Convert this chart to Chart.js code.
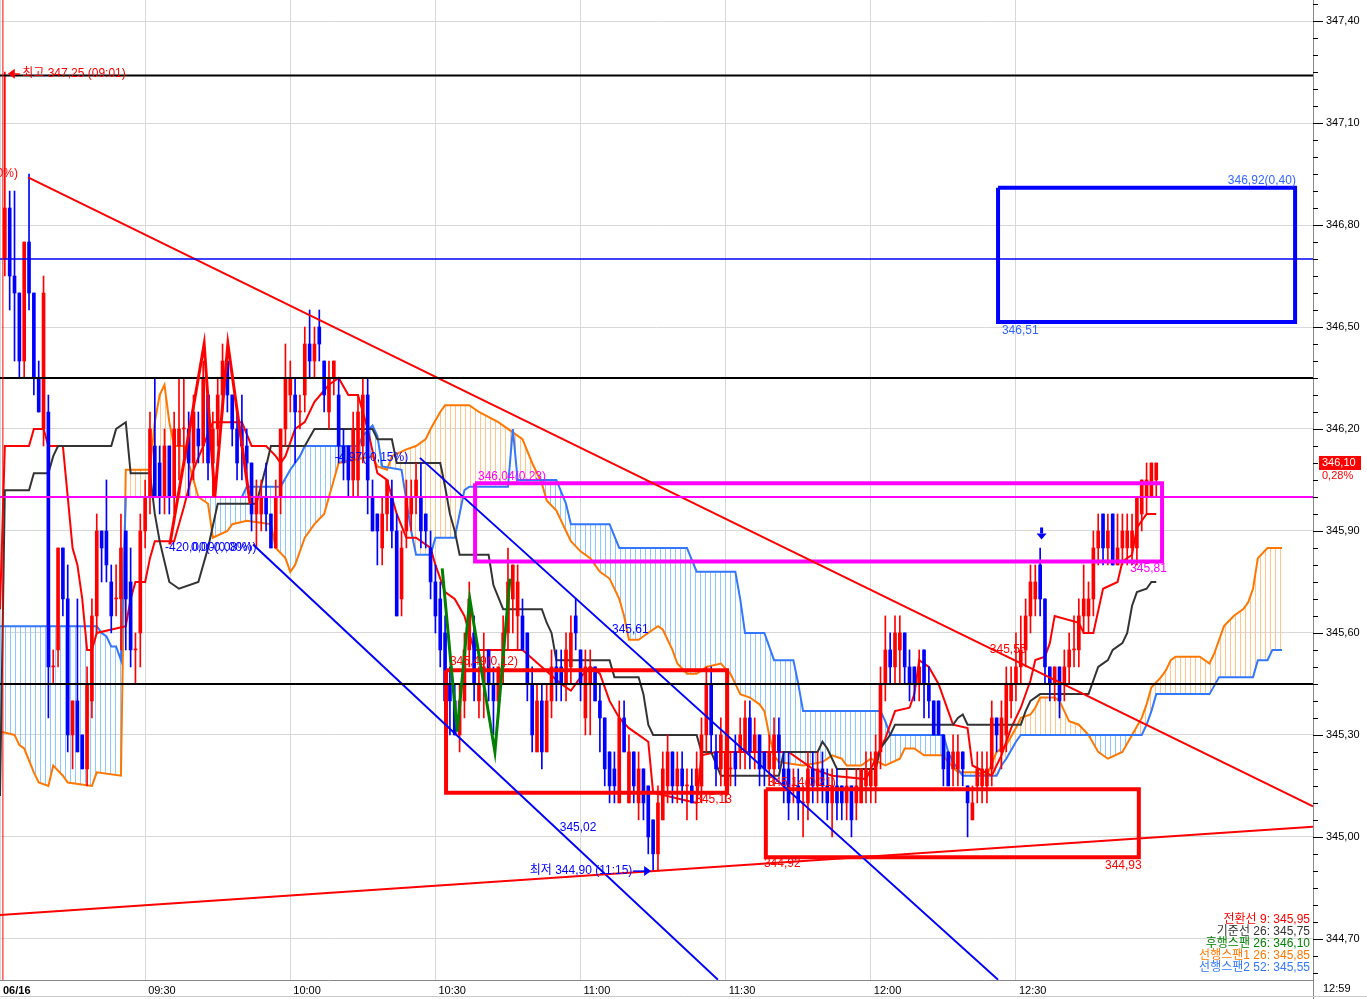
<!DOCTYPE html>
<html>
<head>
<meta charset="utf-8">
<script src="https://cdn.jsdelivr.net/npm/chart.js@4.4.0/dist/chart.umd.min.js"></script>
<style>
html,body{margin:0;padding:0;background:#fff;overflow:hidden}
#wrap{width:1367px;height:999px}
</style>
</head>
<body>
<div id="wrap"><canvas id="c" width="1367" height="999"></canvas></div>
<script>
// minute bars, index = minutes after 09:00, first bar is 09:01
const firstBar = 1;
const tickMinutes = [0, 30, 60, 90, 120, 150, 180, 210];
const tickLabels = ['06/16', '09:30', '10:00', '10:30', '11:00', '11:30', '12:00', '12:30'];
const lastTime = '12:59';
const priceTicks = [344.70, 345.00, 345.30, 345.60, 345.90, 346.20, 346.50, 346.80, 347.10, 347.40];

// open, high, low, close
const ohlc = [
  [346.70,347.25,346.65,346.85],[346.85,346.90,346.55,346.65],[346.65,346.90,346.40,346.60],[346.60,346.60,346.35,346.40],[346.40,346.75,346.35,346.75],
  [346.75,346.95,346.55,346.60],[346.60,346.60,346.30,346.35],[346.35,346.40,346.25,346.25],[346.20,346.65,346.15,346.60],[346.25,346.30,345.35,345.50],
  [345.50,345.55,345.45,345.50],[345.55,345.85,345.50,345.85],[345.85,345.85,345.65,345.70],[345.70,345.80,345.25,345.30],[345.30,345.40,345.20,345.40],
  [345.40,345.70,345.25,345.25],[345.30,345.30,345.20,345.20],[345.20,345.50,345.15,345.45],[345.40,345.70,345.35,345.65],[345.65,345.95,345.60,345.90],
  [345.90,345.90,345.75,345.85],[345.90,346.05,345.75,345.80],[345.75,345.80,345.60,345.65],[345.70,345.80,345.65,345.70],[345.70,345.95,345.55,345.85],
  [345.90,345.90,345.55,345.70],[345.75,345.85,345.50,345.55],[345.55,345.60,345.45,345.55],[345.60,345.95,345.50,345.90],[345.90,346.05,345.85,346.00],
  [346.00,346.25,345.95,346.20],[346.15,346.35,346.00,346.00],[346.10,346.15,345.95,346.00],[346.00,346.20,345.95,346.15],[346.15,346.15,345.95,346.00],
  [346.00,346.25,345.95,346.20],[346.15,346.35,346.05,346.20],[346.20,346.35,346.10,346.20],[346.20,346.25,346.00,346.10],[346.10,346.30,346.05,346.25],
  [346.20,346.25,346.10,346.15],[346.15,346.40,346.10,346.35],[346.30,346.30,346.05,346.10],[346.10,346.25,346.00,346.20],[346.20,346.35,346.15,346.30],
  [346.30,346.45,346.25,346.40],[346.40,346.40,346.25,346.30],[346.30,346.30,346.15,346.20],[346.20,346.25,346.05,346.10],[346.20,346.30,346.05,346.15],
  [346.15,346.20,346.05,346.10],[346.10,346.10,345.90,345.95],[345.95,346.05,345.85,346.00],[345.95,346.05,345.90,346.00],[346.00,346.10,345.90,345.95],
  [345.95,345.95,345.85,345.85],[345.85,346.05,345.85,346.00],[346.00,346.20,345.95,346.20],[346.20,346.45,346.15,346.35],[346.30,346.40,346.25,346.35],
  [346.30,346.35,346.10,346.25],[346.25,346.30,346.20,346.25],[346.30,346.50,346.25,346.45],[346.45,346.55,346.35,346.40],[346.40,346.50,346.35,346.45],
  [346.50,346.55,346.40,346.45],[346.40,346.40,346.25,346.30],[346.25,346.40,346.20,346.35],[346.35,346.40,346.30,346.40],[346.30,346.35,346.10,346.15],
  [346.15,346.20,346.05,346.10],[346.15,346.15,346.00,346.05],[346.05,346.25,346.00,346.20],[346.05,346.30,346.00,346.25],[346.15,346.35,346.10,346.30],
  [346.30,346.35,345.95,346.05],[346.00,346.05,345.90,345.90],[345.95,345.95,345.80,345.90],[345.85,346.00,345.80,345.95],[345.95,346.05,345.90,346.05],
  [346.00,346.05,345.85,345.90],[345.90,345.95,345.65,345.65],[345.70,345.90,345.65,345.85],[345.90,346.05,345.85,346.00],[345.95,346.05,345.90,346.00],
  [346.00,346.10,345.95,346.05],[346.00,346.10,345.85,345.90],[345.95,345.95,345.85,345.90],[345.85,345.90,345.70,345.75],[345.75,345.80,345.60,345.65],
  [345.70,345.75,345.50,345.55],[345.60,345.65,345.30,345.40],[345.45,345.50,345.30,345.40],[345.40,345.45,345.30,345.30],[345.30,345.45,345.25,345.40],
  [345.40,345.60,345.35,345.55],[345.55,345.75,345.50,345.70],[345.60,345.65,345.40,345.45],[345.40,345.50,345.35,345.45],[345.45,345.60,345.35,345.50],
  [345.55,345.55,345.40,345.45],[345.45,345.50,345.30,345.40],[345.40,345.50,345.35,345.50],[345.50,345.65,345.45,345.60],[345.60,345.85,345.55,345.75],
  [345.70,345.80,345.60,345.80],[345.65,345.80,345.55,345.75],[345.65,345.70,345.55,345.55],[345.60,345.60,345.40,345.45],[345.45,345.50,345.25,345.30],
  [345.25,345.45,345.25,345.40],[345.40,345.45,345.20,345.25],[345.25,345.45,345.25,345.40],[345.40,345.55,345.35,345.50],[345.50,345.55,345.40,345.45],
  [345.50,345.55,345.40,345.45],[345.45,345.60,345.40,345.55],[345.50,345.65,345.45,345.60],[345.65,345.70,345.55,345.60],[345.55,345.55,345.40,345.45],
  [345.35,345.55,345.30,345.50],[345.45,345.55,345.30,345.50],[345.50,345.50,345.40,345.40],[345.40,345.45,345.25,345.35],[345.35,345.35,345.15,345.20],
  [345.25,345.25,345.10,345.15],[345.20,345.25,345.10,345.15],[345.10,345.40,345.10,345.35],[345.35,345.40,345.25,345.25],[345.10,345.30,345.10,345.25],
  [345.25,345.25,345.10,345.15],[345.10,345.25,345.05,345.20],[345.20,345.20,345.05,345.10],[345.15,345.15,344.95,345.00],[345.05,345.05,344.90,344.95],
  [344.95,345.15,344.90,345.10],[345.05,345.25,345.05,345.20],[345.15,345.30,345.10,345.25],[345.25,345.25,345.10,345.15],[345.15,345.25,345.10,345.20],
  [345.20,345.25,345.10,345.15],[345.15,345.20,345.05,345.15],[345.15,345.20,345.10,345.10],[345.15,345.25,345.05,345.20],[345.15,345.35,345.10,345.30],
  [345.30,345.50,345.25,345.45],[345.45,345.50,345.25,345.30],[345.25,345.30,345.15,345.20],[345.20,345.35,345.15,345.30],[345.15,345.30,345.10,345.25],
  [345.20,345.25,345.15,345.20],[345.25,345.30,345.15,345.20],[345.25,345.35,345.20,345.30],[345.25,345.40,345.20,345.35],[345.35,345.40,345.20,345.25],
  [345.25,345.35,345.20,345.30],[345.30,345.30,345.15,345.20],[345.25,345.25,345.15,345.20],[345.20,345.30,345.15,345.25],[345.20,345.35,345.15,345.30],
  [345.30,345.35,345.20,345.25],[345.20,345.25,345.10,345.15],[345.20,345.25,345.05,345.10],[345.15,345.20,345.10,345.15],[345.15,345.20,345.05,345.10],
  [345.10,345.15,345.00,345.10],[345.10,345.25,345.05,345.20],[345.20,345.25,345.10,345.15],[345.15,345.25,345.10,345.20],[345.20,345.25,345.10,345.15],
  [345.15,345.20,345.05,345.10],[345.10,345.20,345.00,345.15],[345.15,345.20,345.05,345.10],[345.15,345.15,345.05,345.10],[345.10,345.20,345.05,345.15],
  [345.15,345.15,345.00,345.05],[345.10,345.20,345.05,345.15],[345.10,345.20,345.10,345.20],[345.15,345.25,345.10,345.20],[345.15,345.25,345.10,345.20],
  [345.15,345.30,345.10,345.25],[345.25,345.50,345.20,345.45],[345.45,345.65,345.40,345.55],[345.55,345.60,345.45,345.50],[345.50,345.65,345.45,345.60],
  [345.55,345.65,345.45,345.60],[345.60,345.60,345.45,345.50],[345.50,345.55,345.40,345.45],[345.50,345.50,345.40,345.45],[345.45,345.55,345.40,345.50],
  [345.55,345.55,345.35,345.45],[345.45,345.50,345.35,345.40],[345.40,345.40,345.30,345.30],[345.40,345.40,345.30,345.30],[345.30,345.30,345.15,345.20],
  [345.25,345.25,345.15,345.15],[345.20,345.30,345.15,345.25],[345.20,345.30,345.15,345.25],[345.25,345.25,345.15,345.20],[345.15,345.15,345.00,345.10],
  [345.05,345.15,345.05,345.10],[345.15,345.25,345.10,345.20],[345.15,345.25,345.10,345.20],[345.15,345.25,345.10,345.20],[345.20,345.40,345.15,345.35],
  [345.35,345.35,345.25,345.30],[345.25,345.40,345.20,345.35],[345.30,345.50,345.25,345.45],[345.40,345.50,345.35,345.45],[345.45,345.60,345.40,345.50],
  [345.50,345.65,345.45,345.55],[345.55,345.70,345.50,345.65],[345.65,345.80,345.60,345.75],[345.70,345.80,345.65,345.75],[345.80,345.85,345.65,345.70],
  [345.70,345.70,345.45,345.50],[345.50,345.50,345.40,345.45],[345.45,345.50,345.40,345.50],[345.50,345.50,345.35,345.40],[345.45,345.55,345.40,345.50],
  [345.50,345.60,345.45,345.55],[345.55,345.65,345.50,345.55],[345.55,345.70,345.50,345.65],[345.65,345.80,345.60,345.70],[345.65,345.75,345.60,345.70],
  [345.70,345.90,345.65,345.85],[345.85,345.95,345.80,345.90],[345.95,345.95,345.80,345.85],[345.85,345.95,345.80,345.90],[345.95,345.95,345.80,345.80],
  [345.80,345.95,345.80,345.85],[345.85,345.95,345.80,345.90],[345.85,345.95,345.80,345.90],[345.85,345.95,345.80,345.90],[345.85,346.00,345.80,346.00],
  [345.95,346.05,345.90,346.05],[346.00,346.10,345.95,346.05],[346.00,346.10,346.00,346.10],[346.05,346.10,346.00,346.10]
];

// ichimoku lines, [minute, price] at each turn
const tenkan = [[0,345.67],[1,346.15],[6,346.15],[7,346.20],[9,346.20],[10,346.15],[13,346.15],[14,346.00],[15,345.85],[16,345.80],[17,345.70],[18,345.55],[19,345.55],[20,345.60],[26,345.62],[27,345.70],[28,345.75],[30,345.75],[31,345.82],[32,345.87],[36,345.87],[38,345.97],[40,346.08],[42,346.15],[44,346.22],[50,346.22],[52,346.15],[55,346.15],[57,346.12],[58,346.10],[59,346.12],[61,346.20],[63,346.22],[65,346.28],[68,346.33],[70,346.35],[72,346.30],[74,346.30],[76,346.20],[78,346.07],[80,346.05],[82,345.95],[84,345.88],[86,345.88],[89,345.85],[90,345.80],[92,345.72],[94,345.70],[96,345.65],[98,345.55],[108,345.55],[112,345.50],[116,345.45],[118,345.43],[120,345.47],[122,345.50],[124,345.48],[126,345.40],[128,345.35],[130,345.32],[132,345.30],[134,345.28],[135,345.13],[144,345.10],[145,345.24],[148,345.25],[163,345.25],[168,345.20],[172,345.18],[179,345.17],[180,345.20],[182,345.26],[183,345.29],[185,345.37],[188,345.38],[189,345.42],[190,345.52],[192,345.50],[194,345.45],[196,345.37],[197,345.33],[200,345.32],[201,345.21],[205,345.18],[207,345.24],[209,345.32],[211,345.38],[213,345.46],[214,345.52],[216,345.53],[217,345.57],[218,345.65],[223,345.63],[224,345.60],[226,345.60],[228,345.73],[231,345.75],[232,345.81],[234,345.83],[235,345.91],[237,345.95],[239,345.95]];
const kijun = [[0,345.12],[1,346.02],[6,346.02],[7,346.07],[10,346.07],[11,346.12],[12,346.15],[23,346.15],[24,346.20],[26,346.22],[27,346.07],[31,346.07],[32,345.95],[33,345.87],[35,345.75],[37,345.73],[41,345.75],[43,345.85],[45,345.98],[53,345.98],[55,346.09],[56,346.15],[63,346.15],[65,346.20],[77,346.20],[78,346.17],[81,346.17],[82,346.10],[91,346.10],[92,346.03],[93,345.95],[94,345.90],[95,345.83],[101,345.83],[102,345.74],[104,345.67],[112,345.67],[113,345.63],[114,345.60],[115,345.52],[126,345.52],[127,345.47],[132,345.47],[133,345.42],[134,345.33],[135,345.30],[144,345.30],[145,345.25],[147,345.25],[149,345.18],[161,345.18],[162,345.25],[169,345.25],[170,345.28],[171,345.26],[173,345.20],[181,345.20],[182,345.26],[184,345.30],[185,345.33],[197,345.33],[198,345.35],[199,345.36],[200,345.33],[211,345.33],[212,345.37],[213,345.40],[215,345.42],[225,345.42],[227,345.50],[229,345.52],[230,345.55],[232,345.57],[233,345.60],[234,345.68],[235,345.72],[237,345.73],[238,345.75],[239,345.75]];
const span1 = [[0,345.31],[3,345.30],[4,345.27],[5,345.26],[7,345.19],[8,345.16],[10,345.15],[11,345.21],[13,345.18],[14,345.16],[19,345.15],[20,345.19],[25,345.18],[26,346.08],[31,346.08],[32,346.22],[33,346.30],[34,346.33],[35,346.22],[36,346.15],[38,346.15],[40,346.05],[41,346.00],[43,345.98],[44,345.88],[47,345.90],[48,345.92],[51,345.93],[56,345.92],[57,345.85],[59,345.82],[60,345.78],[61,345.80],[63,345.88],[65,345.92],[67,345.95],[68,346.00],[69,346.05],[70,346.10],[77,346.12],[78,346.09],[80,346.08],[81,346.12],[84,346.14],[86,346.15],[88,346.17],[89,346.20],[91,346.25],[92,346.27],[97,346.27],[99,346.25],[103,346.22],[108,346.17],[110,346.10],[112,346.04],[113,345.99],[115,345.96],[117,345.90],[118,345.87],[120,345.84],[122,345.82],[124,345.78],[126,345.76],[128,345.70],[129,345.65],[130,345.58],[132,345.58],[135,345.61],[136,345.62],[137,345.61],[138,345.58],[139,345.55],[140,345.51],[142,345.48],[144,345.48],[146,345.50],[149,345.51],[151,345.48],[152,345.45],[153,345.42],[155,345.41],[157,345.39],[158,345.37],[159,345.30],[160,345.24],[161,345.22],[166,345.21],[170,345.22],[172,345.24],[174,345.23],[175,345.21],[178,345.21],[180,345.23],[183,345.21],[186,345.23],[187,345.26],[189,345.26],[191,345.24],[195,345.24],[196,345.22],[198,345.19],[202,345.19],[204,345.18],[206,345.25],[208,345.27],[210,345.32],[211,345.35],[213,345.36],[214,345.38],[215,345.41],[218,345.41],[219,345.40],[220,345.37],[221,345.34],[223,345.33],[225,345.30],[227,345.25],[229,345.23],[232,345.25],[234,345.30],[236,345.35],[237,345.39],[238,345.44],[240,345.47],[241,345.49],[242,345.52],[243,345.53],[248,345.53],[250,345.51],[251,345.54],[252,345.58],[253,345.62],[255,345.65],[257,345.67],[258,345.69],[259,345.73],[260,345.82],[262,345.85],[265,345.85]];
const span2 = [[0,345.62],[20,345.62],[21,345.60],[22,345.59],[23,345.56],[24,345.56],[25,345.52],[26,346.00],[50,346.00],[51,346.03],[58,346.03],[60,346.08],[62,346.12],[63,346.15],[74,346.15],[75,346.18],[77,346.21],[78,346.18],[79,346.09],[83,346.08],[84,345.99],[85,345.90],[86,345.83],[89,345.83],[90,345.88],[94,345.88],[95,345.95],[96,346.02],[97,346.03],[105,346.03],[106,346.20],[107,346.05],[115,346.05],[117,345.98],[118,345.92],[126,345.92],[128,345.85],[142,345.85],[144,345.78],[152,345.78],[153,345.70],[154,345.60],[158,345.60],[160,345.52],[164,345.52],[165,345.45],[166,345.37],[182,345.37],[183,345.34],[184,345.30],[195,345.30],[196,345.25],[197,345.22],[199,345.18],[206,345.18],[207,345.21],[208,345.23],[210,345.28],[211,345.30],[236,345.30],[237,345.33],[238,345.37],[239,345.42],[250,345.42],[252,345.47],[259,345.47],[260,345.52],[262,345.52],[263,345.55],[265,345.55]];

// drawn objects
const patternW = [[91.4,345.79],[94.5,345.31],[97.1,345.70],[102.3,345.25],[105.4,345.76]];
const patternM = [[35.1,345.86],[42.2,346.45],[44.4,346.00],[47.1,346.45],[51.7,345.98]];
const hLines = [[347.24,'#000000',2],[346.70,'#0000ff',1.5],[346.35,'#000000',2],[346.00,'#ff00ff',2],[345.45,'#000000',2]];
const trendLines = [
  [[5.8,346.94],[271.4,345.09],'#ff0000',2],
  [[0,344.77],[271.4,345.03],'#ff0000',2],
  [[52.3,345.86],[148.4,344.58],'#0000ff',2],
  [[86.8,346.115],[206.3,344.58],'#0000ff',2]
];
const boxes = [
  [206.3,267.7,346.91,346.515,'#0000ff'],
  [98.2,240.2,346.04,345.81,'#ff00ff'],
  [92.2,150.3,345.49,345.13,'#ff0000'],
  [158.3,235.4,345.14,344.94,'#ff0000']
];
const dayBreak = 0.6;
const notes = [
  ['최고 347,25 (09:01)', 4.6, 347.245, '#ff0000', 'left'],
  ['346,95(0,00%)', 3.7, 346.95, '#ff0000', 'right'],
  ['-4,97(-0,15%)', 69.2, 346.115, '#0000ff', 'left'],
  ['-420,00(-0,08%)', 34.1, 345.85, '#0000ff', 'left'],
  ['0,00(0,00%)', 39.5, 345.85, '#0000ff', 'left'],
  ['346,04(0,23)', 98.8, 346.06, '#ff00ff', 'left'],
  ['345,81', 233.6, 345.79, '#ff00ff', 'left'],
  ['346,92(0,40)', 253.8, 346.93, '#3366ff', 'left'],
  ['346,51', 207.1, 346.49, '#3366ff', 'left'],
  ['345,49(0,12)', 93.0, 345.515, '#ff0000', 'left'],
  ['345,13', 143.7, 345.109, '#ff0000', 'left'],
  ['345,14(0,21)', 158.7, 345.159, '#ff0000', 'left'],
  ['344,93', 228.4, 344.915, '#ff0000', 'left'],
  ['344,92', 157.9, 344.92, '#ff0000', 'left'],
  ['345,61', 126.5, 345.61, '#0000ff', 'left'],
  ['345,02', 115.7, 345.027, '#0000ff', 'left'],
  ['345,55', 204.6, 345.55, '#ff0000', 'left'],
  ['최저 344,90 (11:15)', 109.5, 344.90, '#0000ff', 'left']
];
const legendLines = [
  ['전환선 9: 345,95', '#ff0000'],
  ['기준선 26: 345,75', '#333333'],
  ['후행스팬 26: 346,10', '#008000'],
  ['선행스팬1 26: 345,85', '#ff7700'],
  ['선행스팬2 52: 345,55', '#3377ff']
];
const lastPrice = 346.10;
const lastChange = '0,28%';

const RED = '#ff0000', BLUE = '#0000ff';
const FONT = "'Liberation Sans','Noto Sans CJK KR',sans-serif";
Chart.defaults.font.family = FONT;
Chart.defaults.font.size = 11;
Chart.defaults.color = '#000';

const pts = arr => arr.map(p => ({x: p[0], y: p[1]}));
const isMajor = v => priceTicks.some(p => Math.abs(p - v) < 1e-6);
const fmt = v => v.toFixed(2).replace('.', ',');

function hatch(color) {
  const c = document.createElement('canvas');
  c.width = 5; c.height = 1;
  const g = c.getContext('2d');
  g.fillStyle = color;
  g.fillRect(0, 0, 1, 1);
  return g.createPattern(c, 'repeat');
}

const xMax = 271.4;
const lineDs = (data, color, width, order) => ({
  type: 'line', data, borderColor: color, borderWidth: width, pointRadius: 0,
  fill: false, tension: 0, order
});

const datasets = [
  lineDs(pts(span2), '#3377ff', 2, 4),
  Object.assign(lineDs(pts(span1), '#ff7700', 2, 5), {
    fill: {target: 0, above: hatch('#ffc58a'), below: hatch('#8cc8ff')}
  }),
  lineDs(pts(kijun), '#333333', 2, 3),
  lineDs(pts(tenkan), RED, 2, 3),
  {
    type: 'bar', order: 2, grouped: false, barThickness: 1,
    data: ohlc.map((d, k) => ({x: k + firstBar, y: [d[2], d[1]]})),
    backgroundColor: ctx => ohlc[ctx.dataIndex][3] >= ohlc[ctx.dataIndex][0] ? RED : BLUE
  },
  {
    type: 'bar', order: 1, grouped: false, barThickness: 3, minBarLength: 1,
    data: ohlc.map((d, k) => ({x: k + firstBar, y: [Math.min(d[0], d[3]), Math.max(d[0], d[3])]})),
    backgroundColor: ctx => ohlc[ctx.dataIndex][3] >= ohlc[ctx.dataIndex][0] ? RED : BLUE
  },
  lineDs(pts(patternW), '#008000', 3, 0),
  lineDs(pts(patternM), RED, 3, 0),
  lineDs([{x: dayBreak, y: 344.5}, {x: dayBreak, y: 347.5}], RED, 1, 0)
];
hLines.forEach(h => datasets.push(lineDs([{x: 0, y: h[0]}, {x: xMax, y: h[0]}], h[1], h[2], 0)));
trendLines.forEach(t => datasets.push(lineDs(pts([t[0], t[1]]), t[2], t[3], 0)));
boxes.forEach(b => datasets.push(Object.assign(lineDs(pts([[b[0], b[2]], [b[1], b[2]], [b[1], b[3]], [b[0], b[3]], [b[0], b[2]]]), b[4], 4, 0), {borderJoinStyle: 'miter'})));

const overlay = {
  id: 'overlay',
  afterDraw(chart) {
    const {ctx, chartArea: a, scales: {x, y}} = chart;
    ctx.save();
    // y tick marks
    ctx.strokeStyle = '#000';
    ctx.lineWidth = 1;
    y.ticks.forEach(t => {
      const py = Math.round(y.getPixelForValue(t.value)) + 0.5;
      ctx.beginPath();
      ctx.moveTo(a.right, py);
      ctx.lineTo(a.right + (isMajor(t.value) ? 10 : 5), py);
      ctx.stroke();
    });
    // frame bits
    ctx.strokeStyle = '#888';
    ctx.beginPath();
    ctx.moveTo(a.right + 0.5, a.bottom); ctx.lineTo(a.right + 0.5, 999);
    ctx.stroke();
    ctx.strokeStyle = '#c8c8c8';
    ctx.beginPath();
    ctx.moveTo(0, 996.5); ctx.lineTo(1367, 996.5);
    ctx.stroke();

    ctx.font = '12px ' + FONT;
    ctx.textBaseline = 'middle';
    notes.forEach(n => {
      ctx.fillStyle = n[3];
      ctx.textAlign = n[4];
      ctx.fillText(n[0], x.getPixelForValue(n[1]), y.getPixelForValue(n[2]));
    });

    // high marker arrow
    let px = x.getPixelForValue(firstBar) + 3, py = y.getPixelForValue(347.245);
    ctx.fillStyle = RED;
    ctx.beginPath();
    ctx.moveTo(px, py); ctx.lineTo(px + 7, py - 5); ctx.lineTo(px + 7, py + 5); ctx.closePath();
    ctx.fill();
    ctx.fillRect(px + 7, py - 0.5, 5, 1.5);
    // low marker arrow
    px = x.getPixelForValue(135) - 2; py = y.getPixelForValue(344.90);
    ctx.fillStyle = BLUE;
    ctx.fillRect(px - 18, py - 0.5, 12, 1.5);
    ctx.beginPath();
    ctx.moveTo(px, py); ctx.lineTo(px - 7, py - 5); ctx.lineTo(px - 7, py + 5); ctx.closePath();
    ctx.fill();
    // signal arrow
    px = x.getPixelForValue(215.3); py = y.getPixelForValue(345.875);
    ctx.fillRect(px - 1.5, py - 12, 3, 6);
    ctx.beginPath();
    ctx.moveTo(px - 5, py - 6); ctx.lineTo(px + 5, py - 6); ctx.lineTo(px, py); ctx.closePath();
    ctx.fill();

    // last price box
    py = y.getPixelForValue(lastPrice);
    ctx.fillStyle = RED;
    ctx.fillRect(a.right + 6, py - 7, 42, 14);
    ctx.fillStyle = '#fff';
    ctx.textAlign = 'left';
    ctx.font = '11px ' + FONT;
    ctx.fillText(fmt(lastPrice), a.right + 9, py);
    ctx.fillStyle = RED;
    ctx.fillText(lastChange, a.right + 9, py + 13);

    // bottom right legend
    ctx.font = '12px ' + FONT;
    ctx.textAlign = 'right';
    legendLines.forEach((l, k) => {
      ctx.fillStyle = l[1];
      ctx.fillText(l[0], a.right - 3, 920 + k * 12);
    });

    // last time in axis corner
    ctx.fillStyle = '#000';
    ctx.textAlign = 'left';
    ctx.font = '11px ' + FONT;
    ctx.fillText(lastTime, a.right + 10, a.bottom + 9);
    ctx.restore();
  }
};

new Chart(document.getElementById('c'), {
  type: 'bar',
  data: {datasets},
  plugins: [overlay],
  options: {
    responsive: false,
    animation: false,
    events: [],
    layout: {padding: 0},
    plugins: {legend: {display: false}, tooltip: {enabled: false}},
    scales: {
      x: {
        type: 'linear', min: 0, max: xMax, offset: false,
        afterBuildTicks: s => { s.ticks = tickMinutes.map(v => ({value: v})); },
        afterFit: s => { s.height = 19; s.paddingLeft = 0; s.paddingRight = 0; },
        grid: {color: '#d8d8d8', drawTicks: false, offset: false},
        border: {display: true, color: '#888'},
        ticks: {
          align: 'start', autoSkip: false, maxRotation: 0, padding: 4, labelOffset: 3,
          callback: (v, i) => tickLabels[i],
          font: c => ({size: 11, weight: c.index === 0 ? 'bold' : 'normal'})
        }
      },
      y: {
        type: 'linear', position: 'right', min: 344.579, max: 347.462,
        afterBuildTicks: s => {
          const t = [];
          for (let k = 34460; k <= 34745; k += 5) t.push({value: k / 100});
          s.ticks = t;
        },
        afterFit: s => { s.width = 54; s.paddingTop = 0; s.paddingBottom = 0; },
        grid: {color: c => (c.tick && isMajor(c.tick.value)) ? '#d8d8d8' : 'rgba(0,0,0,0)', drawTicks: false},
        border: {display: true, color: '#888'},
        ticks: {
          autoSkip: false, padding: 13,
          callback: v => isMajor(v) ? fmt(v) : ''
        }
      }
    }
  }
});
</script>
</body>
</html>
